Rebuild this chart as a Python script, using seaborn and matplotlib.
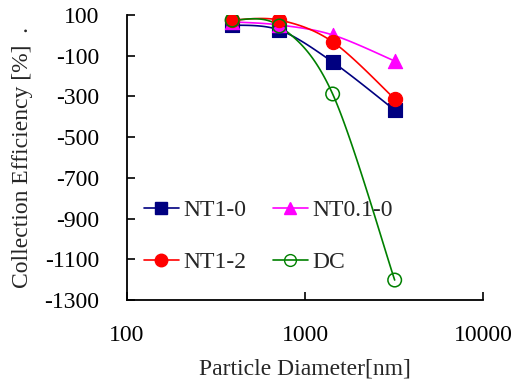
import numpy as np
import pandas as pd
import seaborn as sns
import matplotlib
matplotlib.use('Agg')
import matplotlib.pyplot as plt
from matplotlib.lines import Line2D

# 데이터
diameter = [390, 718, 1430, 3190]
nt1_0 = [51, 26, -131, -367]
nt01_0 = [66, 51, 2, -126]
nt1_2 = [75, 75, -32, -312]
dc = [75, 46, -288, -1202]

series_names = ['NT1-0', 'NT0.1-0', 'NT1-2', 'DC']
series_vals = [nt1_0, nt01_0, nt1_2, dc]
colors = ['#000080', '#FF00FF', '#FF0000', '#008000']
markers = ['s', '^', 'o', 'o']

df = pd.DataFrame({'diameter': diameter * 4,
                   'eff': sum(series_vals, []),
                   'series': np.repeat(series_names, 4)})

sns.set_style('white')
plt.rcParams['font.family'] = ['Liberation Serif', 'DejaVu Serif']
plt.rcParams['axes.unicode_minus'] = False

fig = plt.figure(figsize=(5.18, 3.85), dpi=100)
ax = fig.add_axes([127/518, 1-300/385, (483-127)/518, 285/385])

W, H = 356.0, 285.0  # 화면 크기 기준으로 부드러운 곡선


def smooth(xs, ys, n=40):
    # 엑셀 스타일 곡선(Catmull-Rom -> Bezier)
    px = (np.log10(xs) - 2) / 2 * W
    py = (np.array(ys) + 1300) / 1400 * H
    P = np.column_stack([px, py])
    P = np.vstack([P[0], P, P[-1]])
    out = []
    for i in range(1, len(P) - 2):
        p0, p1, p2, p3 = P[i-1], P[i], P[i+1], P[i+2]
        c1 = p1 + (p2 - p0) / 6
        c2 = p2 - (p3 - p1) / 6
        t = np.linspace(0, 1, n)[:, None]
        b = ((1-t)**3)*p1 + 3*((1-t)**2)*t*c1 + 3*(1-t)*t*t*c2 + t**3*p2
        out.append(b)
    b = np.vstack(out)
    return 10 ** (b[:, 0] / W * 2 + 2), b[:, 1] / H * 1400 - 1300


for name, vals, c, m in zip(series_names, series_vals, colors, markers):
    sx, sy = smooth(np.array(diameter, float), vals)
    ax.plot(sx, sy, color=c, lw=1.2, zorder=2)
    sub = df[df.series == name]
    if name == 'DC':
        sns.scatterplot(data=sub, x='diameter', y='eff', ax=ax, marker='o',
                        s=95, facecolor='none', edgecolor=c, linewidth=1.1,
                        zorder=3, legend=False)
    else:
        sns.scatterplot(data=sub, x='diameter', y='eff', ax=ax, marker=m,
                        s=105, color=c, edgecolor=c, zorder=3, legend=False)

ax.set_xscale('log')
ax.set_xlim(100, 10000)
ax.set_ylim(-1300, 100)
ax.set_yticks(np.arange(-1300, 101, 200))
ax.set_xticks([100, 1000, 10000])
ax.set_xticklabels(['100', '1000', '10000'])
ax.minorticks_off()
ax.tick_params(direction='in', length=6, width=1.2, labelsize=17,
               left=True, bottom=True, colors='black')
ax.tick_params(axis='x', pad=18)
ax.tick_params(axis='y', pad=20)
for s in ['top', 'right']:
    ax.spines[s].set_visible(False)
for s in ['left', 'bottom']:
    ax.spines[s].set_color('black')
    ax.spines[s].set_linewidth(1.3)

ax.set_xlabel('Particle Diameter[nm]', fontsize=17, labelpad=9)
ax.set_ylabel('Collection Efficiency [%]  .', fontsize=17, labelpad=8)

# 범례 순서: 열 단위로 채워지므로 NT1-0, NT1-2 / NT0.1-0, DC
order = [0, 2, 1, 3]
handles = []
labels = []
for i in order:
    name, c, m = series_names[i], colors[i], markers[i]
    if name == 'DC':
        h = Line2D([], [], color=c, lw=1.2, marker='o', markersize=8.5,
                   markerfacecolor='none', markeredgecolor=c)
    else:
        h = Line2D([], [], color=c, lw=1.2, marker=m, markersize=9,
                   markerfacecolor=c, markeredgecolor=c)
    handles.append(h)
    labels.append(name)
leg = ax.legend(handles, labels, ncol=2, frameon=False, fontsize=17,
                loc='upper left', bbox_to_anchor=(0.0, 0.41),
                handlelength=1.5, handletextpad=0.2, labelspacing=1.3,
                columnspacing=1.1, borderaxespad=0.3)

fig.savefig('out.png', dpi=100)
